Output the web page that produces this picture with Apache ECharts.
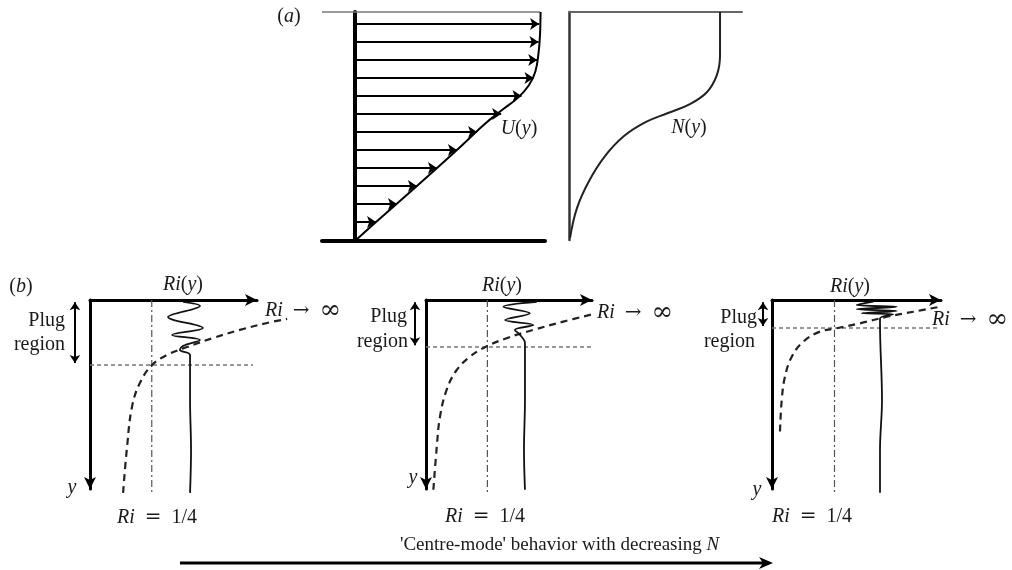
<!DOCTYPE html>
<html>
<head>
<meta charset="utf-8">
<script src="https://cdn.jsdelivr.net/npm/echarts@6/dist/echarts.min.js"></script>
<style>html,body{margin:0;padding:0;background:#fff;}#c{width:1012px;height:570px;}</style>
</head>
<body>
<div id="c"></div>
<script>
// ---------- DATA ----------
// Panel (a): velocity profile U(y) (U normalised, y from bottom 0 to top 1)
const uProfile = [[0,0],[0.114,0.083],[0.335,0.24],[0.551,0.397],[0.70,0.51],[0.80,0.575],[0.88,0.625],[0.94,0.68],[0.975,0.74],[0.992,0.82],[1.0,0.9],[1.003,1.0]];
const uArrowY   = [0.948, 0.869, 0.790, 0.712, 0.633, 0.555, 0.476, 0.397, 0.319, 0.240, 0.162, 0.083];
const uArrowTip = [0.995, 0.992, 0.985, 0.965, 0.90, 0.79, 0.66, 0.551, 0.443, 0.335, 0.227, 0.114];
// Panel (a): buoyancy frequency profile N(y)
const nProfile = [[0.873,1.0],[0.873,0.811],[0.855,0.724],[0.798,0.649],[0.699,0.596],[0.572,0.557],[0.445,0.518],[0.318,0.456],[0.208,0.368],[0.116,0.259],[0.046,0.140],[0.006,0.009]];
// Panel (b): Richardson number profiles (Ri, depth from top)
const riCritical = 0.25;
const riAxisMax = 0.676;
const depthMax = 0.98;
const riDashed1 = [[0.134,1.0],[0.150,0.762],[0.170,0.554],[0.202,0.430],[0.251,0.337],[0.312,0.285],[0.393,0.244],[0.498,0.197],[0.607,0.155],[0.717,0.119],[0.798,0.098]];
const riSolid1  = [[0.377,0.010],[0.445,0.031],[0.316,0.088],[0.457,0.145],[0.332,0.181],[0.445,0.207],[0.377,0.238],[0.364,0.259],[0.405,0.285],[0.405,0.518],[0.409,0.777],[0.405,1.0]];
const riDashed2 = [[0.030,0.984],[0.044,0.760],[0.057,0.605],[0.084,0.466],[0.125,0.363],[0.179,0.294],[0.240,0.245],[0.328,0.198],[0.437,0.155],[0.559,0.112],[0.681,0.073]];
const riSolid2  = [[0.451,0.009],[0.315,0.035],[0.423,0.069],[0.322,0.104],[0.437,0.130],[0.362,0.155],[0.383,0.181],[0.403,0.223],[0.403,0.518],[0.399,0.777],[0.403,0.984]];
const riDashed3 = [[0.032,0.682],[0.039,0.518],[0.052,0.397],[0.079,0.294],[0.125,0.216],[0.192,0.164],[0.256,0.147],[0.352,0.121],[0.459,0.087],[0.565,0.061],[0.672,0.035]];
const riSolid3  = [[0.405,0.009],[0.339,0.026],[0.499,0.035],[0.339,0.048],[0.499,0.057],[0.359,0.069],[0.485,0.074],[0.432,0.095],[0.432,0.121],[0.44,0.518],[0.432,0.777],[0.432,1.0]];
const plugDepth = [0.337, 0.244, 0.145];
const plugArrowRi = [-0.061, -0.045, -0.036];
const dottedEnd = [0.66, 0.68, 0.664];

// ---------- CHART ----------
const FONT = "'Liberation Serif','Times New Roman',serif";
const INK = '#1a1a1a';
const chart = echarts.init(document.getElementById('c'), null, {renderer: 'canvas'});

const hidden = {axisTick:{show:false}, axisLabel:{show:false}, splitLine:{show:false}};
const bPanels = [
  {left:90,  top:300, width:167, height:189},
  {left:426, top:300, width:166, height:189},
  {left:772, top:300, width:169, height:189}
];
const EXTRA_W = 60, EXTRA_H = 12;
const grids = [
  {left:322, top:12, width:223, height:229},
  {left:569, top:12, width:173, height:228}
];
bPanels.forEach(p => grids.push(Object.assign({}, p)));
// overlay grids sharing the same scale, a little larger so curves may run past the axis arrows
bPanels.forEach(p => grids.push({left:p.left, top:p.top, width:p.width + EXTRA_W, height:p.height + EXTRA_H}));

const xAxes = [
  Object.assign({gridIndex:0, type:'value', min:-0.178, max:1.027, position:'bottom',
    axisLine:{show:true, onZero:false, lineStyle:{color:'#000', width:4}}}, hidden),
  Object.assign({gridIndex:1, type:'value', min:0, max:1, position:'top',
    axisLine:{show:true, onZero:false, lineStyle:{color:'#666', width:2}}}, hidden)
];
const yAxes = [
  Object.assign({gridIndex:0, type:'value', min:0, max:1,
    axisLine:{show:true, onZero:true, lineStyle:{color:'#000', width:4}}}, hidden),
  Object.assign({gridIndex:1, type:'value', min:0, max:1, position:'left',
    axisLine:{show:true, onZero:false, lineStyle:{color:'#333', width:2.5}}}, hidden)
];
for (let i = 0; i < 3; i++) {
  xAxes.push(Object.assign({gridIndex:2+i, type:'value', min:0, max:riAxisMax, position:'top',
    axisLine:{show:true, onZero:false, symbol:['none','arrow'], symbolSize:[9,12], lineStyle:{color:'#000', width:3}}}, hidden));
  yAxes.push(Object.assign({gridIndex:2+i, type:'value', min:0, max:depthMax, inverse:true, position:'left',
    axisLine:{show:true, onZero:false, symbol:['arrow','none'], symbolSize:[9,12], lineStyle:{color:'#000', width:3}}}, hidden));
}
for (let i = 0; i < 3; i++) {
  const p = bPanels[i];
  xAxes.push(Object.assign({gridIndex:5+i, type:'value', min:0, max:riAxisMax * (p.width + EXTRA_W) / p.width,
    axisLine:{show:false}}, hidden));
  yAxes.push(Object.assign({gridIndex:5+i, type:'value', min:0, max:depthMax * (p.height + EXTRA_H) / p.height, inverse:true,
    axisLine:{show:false}}, hidden));
}

const series = [];
// panel (a) left
series.push({type:'line', xAxisIndex:0, yAxisIndex:0, data:[[-0.178,1],[1.0,1]], symbol:'none', silent:true, clip:false,
  lineStyle:{color:'#777', width:1.5}});
series.push({type:'line', xAxisIndex:0, yAxisIndex:0, data:uProfile, smooth:0.4, symbol:'none', clip:false,
  lineStyle:{color:'#000', width:2}});
series.push({type:'lines', coordinateSystem:'cartesian2d', xAxisIndex:0, yAxisIndex:0, clip:false,
  data: uArrowY.map((y, k) => ({coords:[[0, y], [uArrowTip[k], y]]})),
  symbol:['none','arrow'], symbolSize:9, lineStyle:{color:'#000', width:2, opacity:1}});
// panel (a) right
series.push({type:'line', xAxisIndex:1, yAxisIndex:1, data:nProfile, smooth:0.4, symbol:'none', clip:false,
  lineStyle:{color:'#222', width:2}});
// panel (b)
const dashedSets = [riDashed1, riDashed2, riDashed3];
const solidSets = [riSolid1, riSolid2, riSolid3];
for (let i = 0; i < 3; i++) {
  const ax = 5 + i;
  series.push({type:'line', xAxisIndex:ax, yAxisIndex:ax, data:[[riCritical,0],[riCritical,1.0]], symbol:'none', clip:false,
    lineStyle:{color:'#555', width:1.2, type:[7,3,2,3]}});
  series.push({type:'line', xAxisIndex:ax, yAxisIndex:ax, data:[[0,plugDepth[i]],[dottedEnd[i],plugDepth[i]]], symbol:'none', clip:false,
    lineStyle:{color:'#777', width:1.6, type:[4,3]}});
  series.push({type:'line', xAxisIndex:ax, yAxisIndex:ax, data:dashedSets[i], smooth:0.4, symbol:'none', clip:false,
    lineStyle:{color:'#222', width:2.2, type:[7,5]}});
  series.push({type:'line', xAxisIndex:ax, yAxisIndex:ax, data:solidSets[i], smooth:0.35, symbol:'none', clip:false,
    lineStyle:{color:'#111', width:1.8}});
  series.push({type:'lines', coordinateSystem:'cartesian2d', xAxisIndex:ax, yAxisIndex:ax, clip:false,
    data:[{coords:[[plugArrowRi[i], 0.012],[plugArrowRi[i], plugDepth[i]-0.01]]}],
    symbol:['arrow','arrow'], symbolSize:8, lineStyle:{color:'#000', width:2, opacity:1}});
}

// ---------- TEXT ----------
function txt(x, y, text, align, size) {
  const s = size || 20;
  return {type:'text', x:x, y:y, silent:true, z:100,
    style:{text:text, fill:INK, font: s + 'px ' + FONT, align:align || 'center', verticalAlign:'middle',
      rich:{
        i:{fontStyle:'italic', fontFamily:FONT, fontSize:s, fill:INK},
        n:{fontFamily:FONT, fontSize:s, fill:INK},
        m:{fontFamily:"'DejaVu Serif',serif", fontSize:s, fill:INK},
        w:{fontFamily:"'DejaVu Serif',serif", fontSize:s + 6, fill:INK}
      }}};
}
const riInf = '{i|Ri}\u2002{m|\u2192}\u2002{w|\u221E}';
const riQuarter = '{i|Ri}\u2002{m|=}\u20021/4';
const graphics = [
  txt(289, 17, '({i|a})'),
  txt(519, 129, '{i|U}({i|y})'),
  txt(689, 128, '{i|N}({i|y})'),
  txt(21, 287, '({i|b})'),
  txt(183, 285, '{i|Ri}({i|y})'), txt(502, 286, '{i|Ri}({i|y})'), txt(850, 287, '{i|Ri}({i|y})'),
  txt(265, 311, riInf, 'left'), txt(597, 313, riInf, 'left'), txt(932, 320, riInf, 'left'),
  txt(65, 321, 'Plug', 'right'), txt(65, 345, 'region', 'right'),
  txt(407, 317, 'Plug', 'right'), txt(408, 342, 'region', 'right'),
  txt(757, 318, 'Plug', 'right'), txt(755, 342, 'region', 'right'),
  txt(72, 488, '{i|y}'), txt(413, 478, '{i|y}'), txt(757, 490, '{i|y}'),
  txt(157, 518, riQuarter), txt(485, 517, riQuarter), txt(812, 517, riQuarter),
  txt(400, 545, "'Centre-mode' behavior with decreasing {i|N}", 'left', 19),
  {type:'line', silent:true, shape:{x1:180, y1:563, x2:764, y2:563}, style:{stroke:'#000', lineWidth:3}},
  {type:'polygon', silent:true, shape:{points:[[759,557],[773,563],[759,569],[763,563]]}, style:{fill:'#000'}}
];

chart.setOption({
  backgroundColor:'#ffffff',
  animation:false,
  grid:grids, xAxis:xAxes, yAxis:yAxes, series:series, graphic:graphics
});
</script>
</body>
</html>
